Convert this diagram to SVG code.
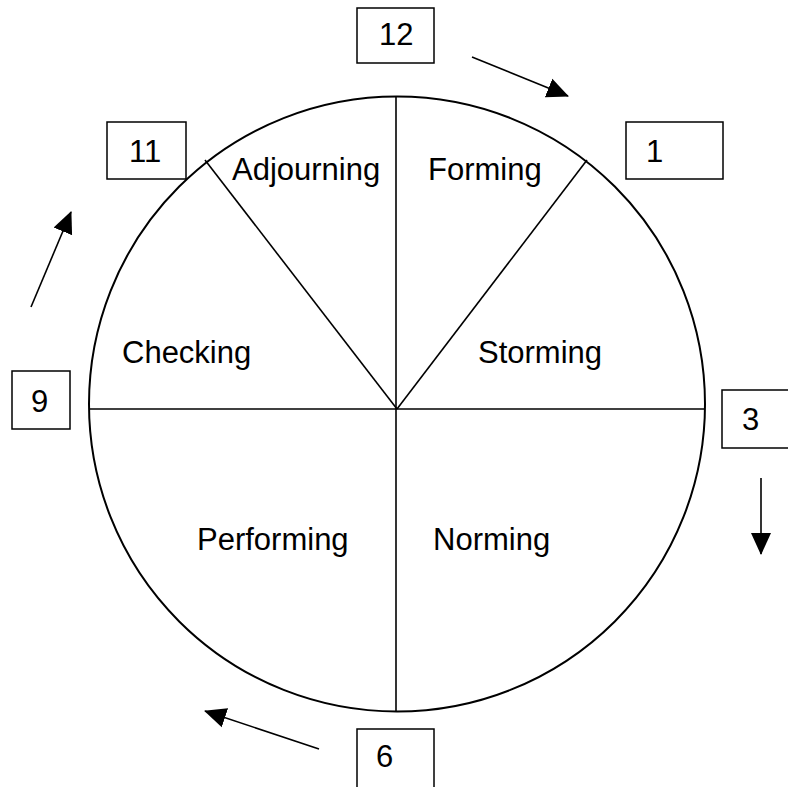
<svg xmlns="http://www.w3.org/2000/svg" width="788" height="787" viewBox="0 0 788 787">
<defs>
<marker id="ah" markerUnits="userSpaceOnUse" markerWidth="22" markerHeight="22" refX="21" refY="10" orient="auto" viewBox="0 0 22 20">
<path d="M0,0 L22,10 L0,20 Z" fill="#000"/>
</marker>
<style>
.lbl{font-family:"Liberation Sans",Arial,sans-serif;font-size:31px;fill:#000}
.num{font-family:"Liberation Sans",Arial,sans-serif;font-size:31px;fill:#000}
.box{fill:#fff;stroke:#000;stroke-width:1.5}
.ln{stroke:#000;stroke-width:1.6;fill:none}
.arr{stroke:#000;stroke-width:1.6;fill:none;marker-end:url(#ah)}
</style>
</defs>
<rect width="788" height="787" fill="#fff"/>
<g id="wheel">
<ellipse cx="397" cy="404" rx="308" ry="307.5" fill="none" stroke="#000" stroke-width="2"/>
<line class="ln" x1="396" y1="96" x2="396" y2="711"/>
<line class="ln" x1="89" y1="409" x2="705" y2="409"/>
<line class="ln" x1="397" y1="409" x2="587" y2="160"/>
<line class="ln" x1="397" y1="409" x2="205" y2="160"/>
</g>
<g id="labels">
<text class="lbl" x="232" y="180">Adjourning</text>
<text class="lbl" x="428" y="180">Forming</text>
<text class="lbl" x="122" y="363">Checking</text>
<text class="lbl" x="478" y="363">Storming</text>
<text class="lbl" x="197" y="550">Performing</text>
<text class="lbl" x="433" y="550">Norming</text>
</g>
<g id="n12"><rect class="box" x="357" y="8" width="77" height="55"/><text class="num" x="379" y="45">12</text></g>
<g id="n1"><rect class="box" x="626" y="122" width="97" height="57"/><text class="num" x="646" y="162">1</text></g>
<g id="n3"><rect class="box" x="722" y="390" width="80" height="58"/><text class="num" x="742" y="430">3</text></g>
<g id="n6"><rect class="box" x="357" y="729" width="77" height="62"/><text class="num" x="376" y="767">6</text></g>
<g id="n9"><rect class="box" x="12" y="371" width="58" height="58"/><text class="num" x="31" y="412">9</text></g>
<g id="n11"><rect class="box" x="107" y="122" width="79" height="57"/><text class="num" x="129" y="162">11</text></g>
<g id="connectors">
<line class="arr" x1="472" y1="57" x2="568" y2="96"/>
<line class="arr" x1="761" y1="478" x2="761" y2="554"/>
<line class="arr" x1="319" y1="749" x2="205" y2="711"/>
<line class="arr" x1="31" y1="307" x2="71" y2="212"/>
</g>
</svg>
